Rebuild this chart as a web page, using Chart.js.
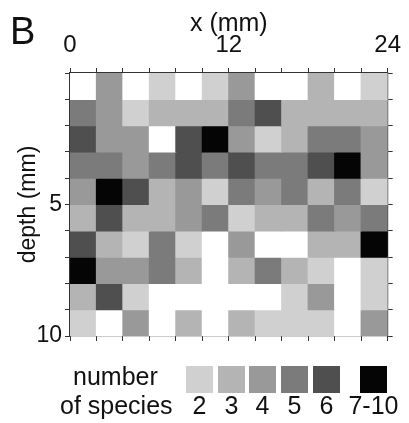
<!DOCTYPE html>
<html>
<head>
<meta charset="utf-8">
<script src="https://cdn.jsdelivr.net/npm/chart.js@4/dist/chart.umd.min.js"></script>
<style>
  html, body { margin: 0; padding: 0; background: #fff; }
  #wrap { position: relative; width: 409px; height: 423px; overflow: hidden; font-family: "Liberation Sans", Arial, sans-serif; color: #111; }
  #c { position: absolute; left: 0; top: 0; }
  .t { position: absolute; white-space: nowrap; line-height: 1; }
  .sw { position: absolute; width: 27px; height: 27px; }
</style>
</head>
<body>
<div id="wrap">
  <canvas id="c" width="409" height="423"></canvas>
  <div class="t" id="panel" style="left:10px; top:12px; font-size:38px;">B</div>
  <div id="legend"></div>
</div>
<script>
// ---- data ----
// x column centres (mm), each cell 2 mm wide
const xCentersMm = [1, 3, 5, 7, 9, 11, 13, 15, 17, 19, 21, 23];
// depth of each row's top edge (mm), each cell 1 mm tall
const depthTopMm = [0, 1, 2, 3, 4, 5, 6, 7, 8, 9];
// number of species per cell, one array per depth row (1 = 0-1 species, 7 = 7-10)
const row0 = [1, 4, 1, 2, 1, 2, 4, 1, 1, 3, 1, 2];
const row1 = [5, 4, 2, 3, 3, 3, 5, 6, 3, 3, 3, 3];
const row2 = [6, 4, 4, 1, 6, 7, 4, 2, 3, 5, 5, 4];
const row3 = [5, 5, 4, 5, 6, 5, 6, 5, 5, 6, 7, 4];
const row4 = [4, 7, 6, 3, 4, 2, 5, 4, 5, 3, 5, 2];
const row5 = [3, 6, 3, 3, 4, 5, 2, 3, 3, 5, 4, 5];
const row6 = [6, 3, 2, 5, 2, 1, 4, 1, 1, 3, 3, 7];
const row7 = [7, 4, 4, 5, 3, 1, 3, 5, 3, 2, 1, 2];
const row8 = [3, 6, 2, 1, 1, 1, 1, 1, 2, 4, 1, 2];
const row9 = [2, 1, 4, 1, 3, 1, 3, 2, 2, 2, 1, 4];
const rows = [row0, row1, row2, row3, row4, row5, row6, row7, row8, row9];
// legend classes
const legendValues = [2, 3, 4, 5, 6, 7];
const legendLabels = ['2', '3', '4', '5', '6', '7-10'];
// axis labels shown
const xTickLabels = [0, 12, 24];
const yTickLabels = [5, 10];

// ---- styling ----
const shade = { 1: '#ffffff', 2: '#d0d0d0', 3: '#b4b4b4', 4: '#999999', 5: '#7b7b7b', 6: '#4f4f4f', 7: '#050505' };
const FONT = '"Liberation Sans", Arial, sans-serif';
const axisCol = '#333';

const datasets = rows.map((row, r) => ({
  label: 'depth ' + depthTopMm[r],
  data: row.map((v, c) => ({ x: xCentersMm[c], y: [depthTopMm[r], depthTopMm[r] + 1], n: v })),
  backgroundColor: row.map(v => shade[v]),
  borderWidth: 0,
  grouped: false,
  barPercentage: 1,
  categoryPercentage: 1,
  inflateAmount: 0.6,
  xAxisID: 'x',
  yAxisID: 'y'
}));

const tickMarks = { drawOnChartArea: false, drawTicks: true, tickLength: 5, color: axisCol, lineWidth: 1, offset: false };
const border = { display: true, color: axisCol, width: 1.2 };

new Chart(document.getElementById('c'), {
  type: 'bar',
  data: { datasets },
  options: {
    responsive: false,
    devicePixelRatio: 1,
    animation: false,
    layout: { padding: 0 },
    plugins: { legend: { display: false }, tooltip: { enabled: false } },
    scales: {
      x: {
        type: 'linear', position: 'top', min: 0, max: 24, offset: false,
        grid: tickMarks, border,
        ticks: {
          stepSize: 2, autoSkip: false, maxRotation: 0, padding: 8,
          color: '#111', font: { family: FONT, size: 24 },
          callback: v => xTickLabels.includes(v) ? String(v) : ''
        },
        title: { display: true, text: 'x (mm)', color: '#111', font: { family: FONT, size: 25 }, padding: { top: 9, bottom: 0 } },
        afterFit: s => { s.height = 73; }
      },
      x2: {
        type: 'linear', axis: 'x', position: 'bottom', min: 0, max: 24, offset: false,
        grid: tickMarks, border,
        ticks: { stepSize: 2, autoSkip: false, maxRotation: 0, callback: () => '' },
        afterFit: s => { s.height = 87; }
      },
      y: {
        type: 'linear', position: 'left', reverse: true, min: 0, max: 10,
        grid: tickMarks, border,
        ticks: {
          stepSize: 1, autoSkip: false, padding: 3,
          color: '#111', font: { family: FONT, size: 23 },
          callback: v => yTickLabels.includes(v) ? String(v) : ''
        },
        title: { display: true, text: 'depth (mm)', color: '#111', font: { family: FONT, size: 23 }, padding: { top: 15, bottom: 0 } },
        afterFit: s => { s.width = 70; }
      },
      y2: {
        type: 'linear', axis: 'y', position: 'right', reverse: true, min: 0, max: 10,
        grid: tickMarks, border,
        ticks: { stepSize: 1, autoSkip: false, callback: () => '' },
        afterFit: s => { s.width = 14; }
      }
    }
  }
});

// ---- legend (built from legend arrays) ----
const lg = document.getElementById('legend');
function addText(txt, css) {
  const d = document.createElement('div');
  d.className = 't';
  d.textContent = txt;
  d.style.cssText += css;
  lg.appendChild(d);
}
addText('number', 'left:73px; top:364px; font-size:25px;');
addText('of species', 'left:60px; top:393px; font-size:25px;');
const swatchLeft = [186, 218, 249, 281, 313, 360];
legendValues.forEach((v, i) => {
  const s = document.createElement('div');
  s.className = 'sw';
  s.style.left = swatchLeft[i] + 'px';
  s.style.top = '366px';
  s.style.background = shade[v];
  lg.appendChild(s);
  const t = document.createElement('div');
  t.className = 't';
  t.textContent = legendLabels[i];
  t.style.cssText += 'top:393px; font-size:25px; width:60px; text-align:center; left:' + (swatchLeft[i] + 13.5 - 30) + 'px;';
  lg.appendChild(t);
});
</script>
</body>
</html>
